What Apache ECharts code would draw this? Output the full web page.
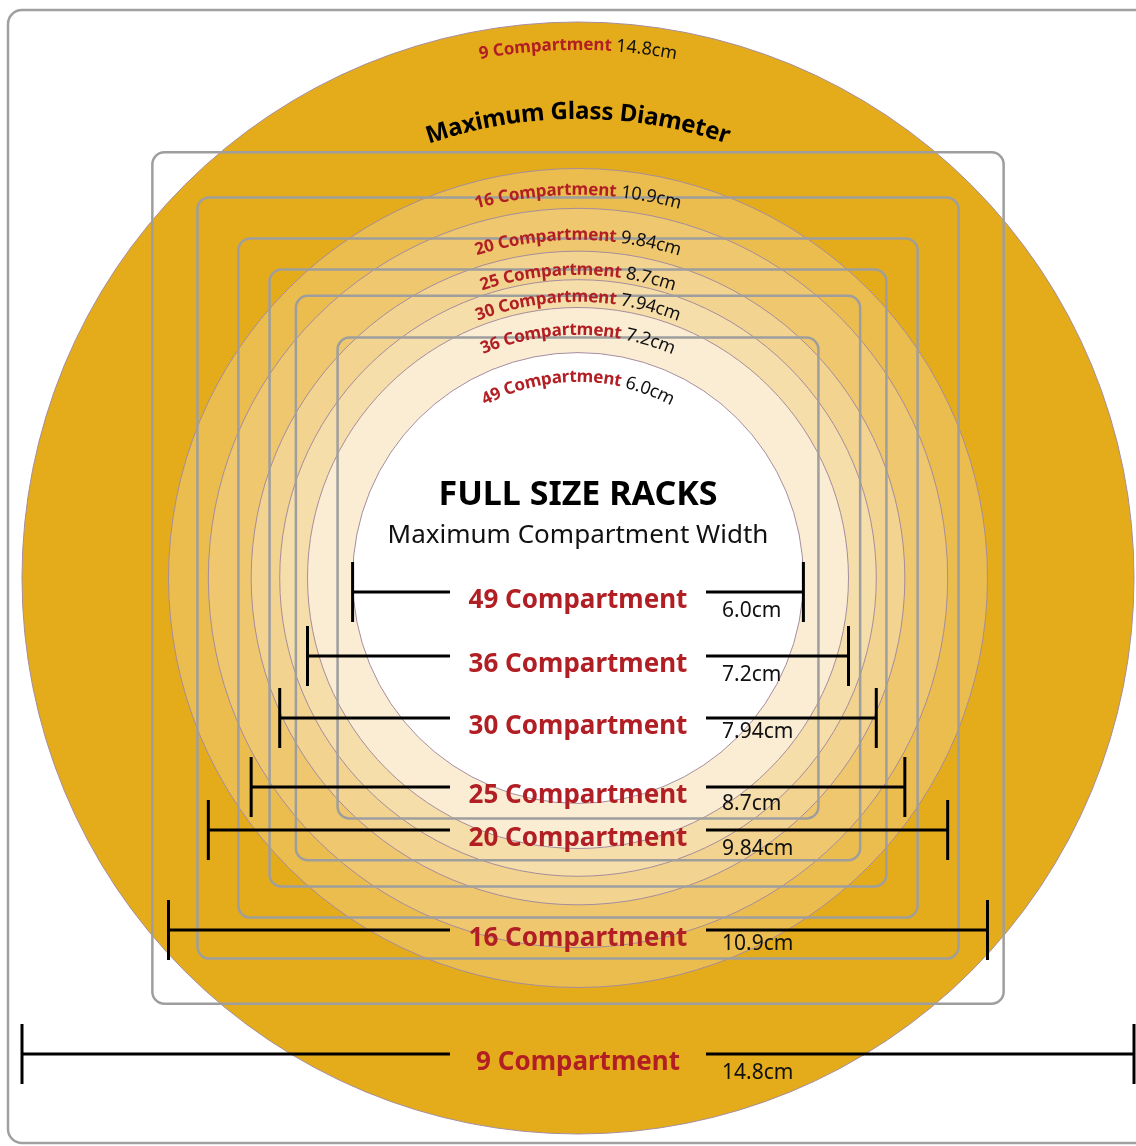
<!DOCTYPE html>
<html>
<head>
<meta charset="utf-8">
<script src="https://cdn.jsdelivr.net/npm/echarts@6/dist/echarts.min.js"></script>
<style>
  html, body { margin: 0; padding: 0; background: #fff; }
  #main { width: 1136px; height: 1146px; }
</style>
</head>
<body>
<div id="main"></div>
<script>
// rack sizes, largest glass first
const compartments = [9, 16, 20, 25, 30, 36, 49]
const diameters = [14.8, 10.9, 9.84, 8.7, 7.94, 7.2, 6.0] // cm
const diameterLabels = ['14.8cm', '10.9cm', '9.84cm', '8.7cm', '7.94cm', '7.2cm', '6.0cm']
const rackWidths = [11.33, 10.13, 9.04, 8.21, 7.51, 6.40] // grey rack outlines, cm

// layout only
const ringColors = ['#E4AC1A', '#EBBC4E', '#EEC76E', '#F2D390', '#F5DEAA', '#FAEDD4', '#FFFFFF']
const rowY = [1054, 930, 830, 787, 718, 656, 592]
const valueY = [1073, 944, 849, 804, 732, 675, 611]
const arcR = [533, 388, 343, 308, 281, 248, 201]
const gapL = 450
const gapR = 706
const RED = '#B11F24'
const FONT = '"Noto Sans", "Open Sans", sans-serif'

const measureCtx = document.createElement('canvas').getContext('2d')

// text bent along the top of a circle, one char at a time
function arcText (cx, cy, R, parts) {
  const chars = []
  parts.forEach(p => {
    measureCtx.font = p.font
    for (const ch of p.text) {
      chars.push({ ch, font: p.font, fill: p.fill, w: measureCtx.measureText(ch).width })
    }
  })
  const total = chars.reduce((s, c) => s + c.w, 0)
  let s = -total / 2
  return chars.map(c => {
    const mid = s + c.w / 2
    s += c.w
    const t = -Math.PI / 2 + mid / R
    return {
      type: 'text',
      x: cx + R * Math.cos(t),
      y: cy + R * Math.sin(t),
      rotation: -(t + Math.PI / 2),
      style: { text: c.ch, font: c.font, fill: c.fill, align: 'center', verticalAlign: 'middle' }
    }
  })
}

const chart = echarts.init(document.getElementById('main'))

const option = {
  animation: false,
  grid: { left: 22, top: 22, width: 1112, height: 1112 },
  xAxis: { type: 'value', min: -7.4, max: 7.4, show: false },
  yAxis: { type: 'value', min: -7.4, max: 7.4, show: false },
  graphic: [
    {
      type: 'rect',
      z: -10,
      shape: { x: 8, y: 10, width: 1150, height: 1133, r: 14 },
      style: { fill: 'none', stroke: '#A0A0A0', lineWidth: 2.5 }
    },
    {
      type: 'text',
      z: 100,
      x: 578,
      y: 495,
      style: { text: 'FULL SIZE RACKS', font: 'bold 34px ' + FONT, fill: '#000', align: 'center', verticalAlign: 'middle' }
    },
    {
      type: 'text',
      z: 100,
      x: 578,
      y: 536,
      style: { text: 'Maximum Compartment Width', font: '26px ' + FONT, fill: '#111', align: 'center', verticalAlign: 'middle' }
    }
  ],
  series: [
    {
      // glass circles
      type: 'custom',
      coordinateSystem: 'cartesian2d',
      data: diameters.map(d => [0, 0, d]),
      encode: { x: 0, y: 1 },
      renderItem (params, api) {
        const c = api.coord([0, 0])
        const r = api.size([api.value(2), 0])[0] / 2
        return {
          type: 'circle',
          shape: { cx: c[0], cy: c[1], r },
          style: { fill: ringColors[params.dataIndex], stroke: '#A68D9C', lineWidth: 1 }
        }
      }
    },
    {
      // rack outlines
      type: 'custom',
      coordinateSystem: 'cartesian2d',
      data: rackWidths.map(w => [0, 0, w]),
      encode: { x: 0, y: 1 },
      renderItem (params, api) {
        const c = api.coord([0, 0])
        const w = api.size([api.value(2), 0])[0]
        return {
          type: 'rect',
          shape: { x: c[0] - w / 2, y: c[1] - w / 2, width: w, height: w, r: 12 },
          style: { fill: 'none', stroke: '#9E9E9E', lineWidth: 2.5 }
        }
      }
    },
    {
      // curved labels at the top of each circle
      type: 'custom',
      coordinateSystem: 'cartesian2d',
      data: diameters.map(d => [0, 0, d]),
      encode: { x: 0, y: 1 },
      renderItem (params, api) {
        const i = params.dataIndex
        const c = api.coord([0, 0])
        const children = arcText(c[0], c[1], arcR[i], [
          { text: compartments[i] + ' Compartment ', font: 'bold 17px ' + FONT, fill: RED },
          { text: diameterLabels[i], font: '18px ' + FONT, fill: '#111' }
        ])
        if (i === 0) {
          children.push(...arcText(c[0], c[1], 466, [
            { text: 'Maximum Glass Diameter', font: 'bold 24px ' + FONT, fill: '#000' }
          ]))
        }
        return { type: 'group', children }
      }
    },
    {
      // width bars
      type: 'custom',
      coordinateSystem: 'cartesian2d',
      data: diameters.map(d => [0, 0, d]),
      encode: { x: 0, y: 1 },
      renderItem (params, api) {
        const i = params.dataIndex
        const d = api.value(2)
        const x0 = api.coord([-d / 2, 0])[0]
        const x1 = api.coord([d / 2, 0])[0]
        const y = rowY[i]
        const ls = { stroke: '#000', lineWidth: 3 }
        return {
          type: 'group',
          children: [
            { type: 'line', shape: { x1: x0, y1: y, x2: gapL, y2: y }, style: ls },
            { type: 'line', shape: { x1: gapR, y1: y, x2: x1, y2: y }, style: ls },
            { type: 'line', shape: { x1: x0, y1: y - 30, x2: x0, y2: y + 30 }, style: ls },
            { type: 'line', shape: { x1: x1, y1: y - 30, x2: x1, y2: y + 30 }, style: ls },
            {
              type: 'text',
              x: 578,
              y: y + 9,
              style: { text: compartments[i] + ' Compartment', font: 'bold 26px ' + FONT, fill: RED, align: 'center', verticalAlign: 'middle' }
            },
            {
              type: 'text',
              x: 722,
              y: valueY[i],
              style: { text: diameterLabels[i], font: '21px ' + FONT, fill: '#111', align: 'left', verticalAlign: 'middle' }
            }
          ]
        }
      }
    }
  ]
}

chart.setOption(option)
</script>
</body>
</html>
